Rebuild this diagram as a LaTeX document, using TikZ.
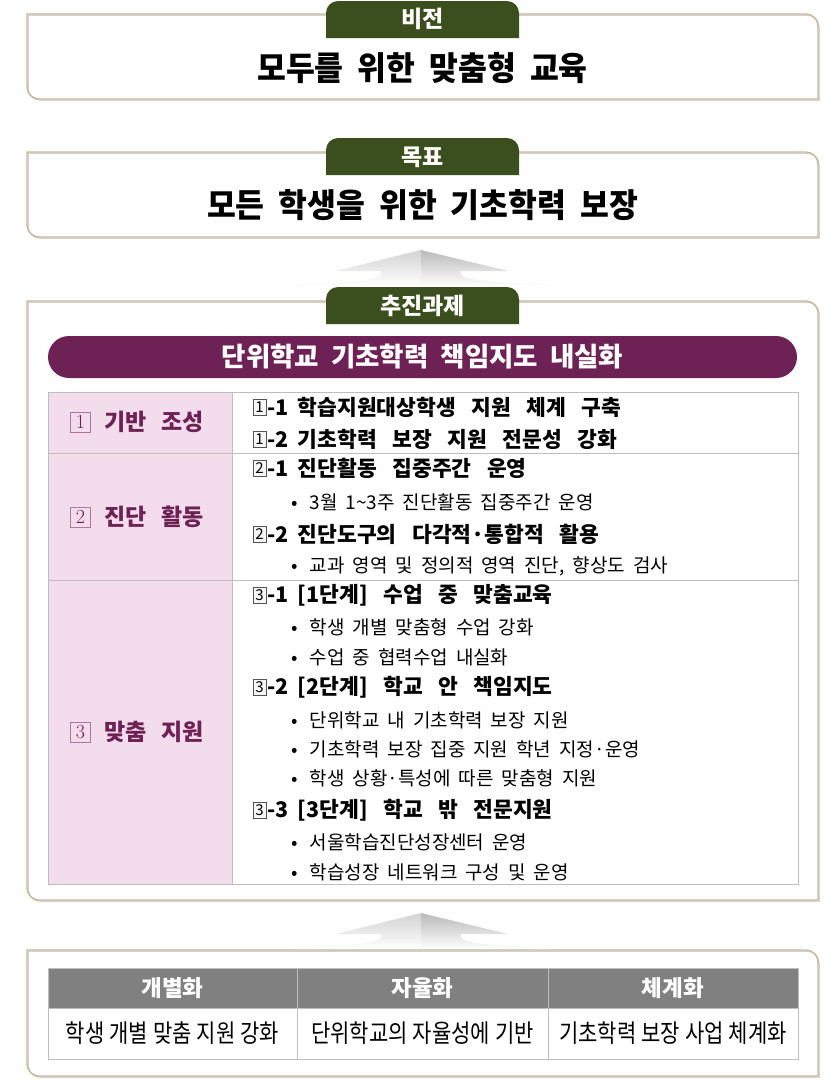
\documentclass[tikz,border=0pt]{standalone}
\usepackage{fontspec}
\usetikzlibrary{calc}
\newfontfamily\kr{Noto Sans CJK KR}
\newfontfamily\krt[FakeStretch=0.95]{Noto Sans CJK KR}
\newfontfamily\krn[FakeStretch=0.84]{Noto Sans CJK KR}
\newcommand{\sps}[1]{\spaceskip=#1\relax}
\definecolor{tabgreen}{RGB}{59,78,30}
\definecolor{banpurple}{RGB}{110,33,85}
\definecolor{cellpink}{RGB}{243,221,236}
\definecolor{boxtan}{RGB}{201,181,152}
\definecolor{gridgray}{RGB}{190,190,190}
\definecolor{hdrgray}{RGB}{128,128,128}
\definecolor{lboxpurple}{RGB}{170,120,160}
\newcommand{\kbox}[4]{%
  \draw[black!18, line width=1.2pt, shift={(1.2,1.2)}] (#1,#2) -- ({#3-12},#2) .. controls ({#3-5.4},#2) and (#3,{#2+5.4}) .. (#3,{#2+12}) -- (#3,#4) -- ({#1+12},#4) .. controls ({#1+5.4},#4) and (#1,{#4-5.4}) .. (#1,{#4-12}) -- cycle;
  \draw[boxline] (#1,#2) -- ({#3-12},#2) .. controls ({#3-5.4},#2) and (#3,{#2+5.4}) .. (#3,{#2+12}) -- (#3,#4) -- ({#1+12},#4) .. controls ({#1+5.4},#4) and (#1,{#4-5.4}) .. (#1,{#4-12}) -- cycle;}
\newcommand{\ktab}[4]{%
  \fill[tabgreen] (#1,#4) -- (#1,{#2+12}) .. controls (#1,{#2+5.4}) and ({#1+5.4},#2) .. ({#1+12},#2) -- ({#3-12},#2) .. controls ({#3-5.4},#2) and (#3,{#2+5.4}) .. (#3,{#2+12}) -- (#3,#4) -- cycle;}
\newcommand{\karrow}[1]{%
  \shade[top color=gray!35, bottom color=white] (421,#1) -- (336,{#1+21}) -- (381,{#1+21}) .. controls (386,{#1+29}) and (360,{#1+33}) .. (300,{#1+34}) -- (282,{#1+36}) -- (421,{#1+36}) -- cycle;
  \shade[top color=gray!55, bottom color=white] (421,#1) -- (508,{#1+21}) -- (461,{#1+21}) .. controls (456,{#1+29}) and (482,{#1+33}) .. (542,{#1+34}) -- (562,{#1+36}) -- (421,{#1+36}) -- cycle;}
\tikzset{
  boxline/.style={draw=boxtan, line width=1.3pt},
  tabtxt/.style={text=white, inner sep=0pt, font=\kr\bfseries\fontsize{23}{23}\selectfont},
  titletxt/.style={inner sep=0pt, font=\krt\bfseries\fontsize{33}{33}\selectfont\sps{14pt}},
  banner/.style={fill=banpurple, rounded corners=21pt, minimum width=749pt, minimum height=42pt, inner sep=0pt, text=white, font=\kr\bfseries\fontsize{26.5}{26.5}\selectfont\sps{12pt}},
  grid/.style={draw=gridgray, line width=0.8pt},
  numbox/.style={draw=gray!65!black, fill=gray!7, line width=0.7pt, inner sep=0pt, minimum width=13pt, minimum height=16pt, font=\kr\fontsize{15}{15}\selectfont},
  hdr/.style={anchor=west, inner sep=0pt, xshift=1pt, font=\kr\bfseries\fontsize{21.5}{21.5}\selectfont\sps{15.5pt}},
  bul/.style={anchor=west, inner sep=0pt, font=\kr\fontsize{19}{19}\selectfont\sps{8pt}},
  lbox/.style={draw=lboxpurple, line width=0.8pt, inner sep=0pt, minimum width=20pt, minimum height=20pt, text=banpurple, font=\fontsize{20}{20}\selectfont},
  ltxt/.style={anchor=west, inner sep=0pt, text=banpurple, font=\kr\bfseries\fontsize{23}{23}\selectfont\sps{15pt}},
  hcell/.style={fill=hdrgray, draw=gridgray, line width=0.8pt, minimum height=40pt, text=white, inner sep=0pt, font=\kr\bfseries\fontsize{22.5}{22.5}\selectfont},
  bcell/.style={draw=gridgray, line width=0.8pt, minimum height=51pt, inner sep=0pt, font=\krn\fontsize{25}{25}\selectfont\sps{5pt}}
}
\begin{document}
\begin{tikzpicture}[x=1pt,y=-1pt]
\useasboundingbox (0,0) rectangle (839,1088);
\fill[white] (0,0) rectangle (839,1088);
% Vision
\kbox{27}{14}{818}{99}
\ktab{326}{1}{519}{38}
\node[tabtxt] (vtab) at (422.5,19) {비전};
\node[titletxt] (vision) at (422.5,68) {모두를 위한 맞춤형 교육};
% Goal
\kbox{27}{152}{818}{237}
\ktab{326}{138}{519}{175}
\node[tabtxt] (gtab) at (422.5,157) {목표};
\node[titletxt] (goal) at (422.5,205) {모든 학생을 위한 기초학력 보장};
% arrow 1
\karrow{250}
% Tasks box
\kbox{27}{301}{818}{900}
\ktab{326}{287}{519}{324}
\node[tabtxt] (ttab) at (422.5,306) {추진과제};
\node[banner] (ban) at (422.5,357) {단위학교 기초학력 책임지도 내실화};
% table
\fill[cellpink] (48,392) rectangle (232,884);
\draw[grid] (48,392) rectangle (798,884);
\draw[grid] (232,392) -- (232,884);
\draw[grid] (48,453) -- (798,453);
\draw[grid] (48,580) -- (798,580);
% left labels
\node[lbox] (l1b) at (80.5,422) {1};
\node[ltxt] (l1) at ($(l1b.east)+(13,0)$) {기반 조성};
\node[lbox] (l2b) at (80.5,517) {2};
\node[ltxt] (l2) at ($(l2b.east)+(13,0)$) {진단 활동};
\node[lbox] (l3b) at (80.5,732) {3};
\node[ltxt] (l3) at ($(l3b.east)+(13,0)$) {맞춤 지원};
% right column
\node[numbox] (h11b) at (259.5,407) {1};
\node[hdr] (h11) at (h11b.east) {-1\hspace{9pt}학습지원대상학생 지원 체계 구축};
\node[numbox] (h12b) at (259.5,439) {1};
\node[hdr] (h12) at (h12b.east) {-2\hspace{9pt}기초학력 보장 지원 전문성 강화};
\node[numbox] (h21b) at (259.5,468) {2};
\node[hdr] (h21) at (h21b.east) {-1\hspace{9pt}진단활동 집중주간 운영};
\node[bul] (b211) at (291,502) {•\hspace{12pt}3월 1\textasciitilde3주 진단활동 집중주간 운영};
\node[numbox] (h22b) at (259.5,534) {2};
\node[hdr] (h22) at (h22b.east) {-2\hspace{9pt}진단도구의 다각적·통합적 활용};
\node[bul] (b221) at (291,566) {•\hspace{12pt}교과 영역 및 정의적 영역 진단, 향상도 검사};
\node[numbox] (h31b) at (259.5,595) {3};
\node[hdr] (h31) at (h31b.east) {-1\hspace{9pt}[1단계] 수업 중 맞춤교육};
\node[bul] (b311) at (291,627) {•\hspace{12pt}학생 개별 맞춤형 수업 강화};
\node[bul] (b312) at (291,657) {•\hspace{12pt}수업 중 협력수업 내실화};
\node[numbox] (h32b) at (259.5,687) {3};
\node[hdr] (h32) at (h32b.east) {-2\hspace{9pt}[2단계] 학교 안 책임지도};
\node[bul] (b321) at (291,720) {•\hspace{12pt}단위학교 내 기초학력 보장 지원};
\node[bul] (b322) at (291,749) {•\hspace{12pt}기초학력 보장 집중 지원 학년 지정·운영};
\node[bul] (b323) at (291,778) {•\hspace{12pt}학생 상황·특성에 따른 맞춤형 지원};
\node[numbox] (h33b) at (259.5,810) {3};
\node[hdr] (h33) at (h33b.east) {-3\hspace{9pt}[3단계] 학교 밖 전문지원};
\node[bul] (b331) at (291,842) {•\hspace{12pt}서울학습진단성장센터 운영};
\node[bul] (b332) at (291,872) {•\hspace{12pt}학습성장 네트워크 구성 및 운영};
% arrow 2
\karrow{913}
% principles box
\kbox{27}{950}{818}{1076}
\node[hcell, minimum width=249pt] (c1h) at (172.5,988) {개별화};
\node[hcell, minimum width=251pt] (c2h) at (422.5,988) {자율화};
\node[hcell, minimum width=250pt] (c3h) at (673,988) {체계화};
\node[bcell, minimum width=249pt] (c1b) at (172.5,1033.5) {학생 개별 맞춤 지원 강화};
\node[bcell, minimum width=251pt] (c2b) at (422.5,1033.5) {단위학교의 자율성에 기반};
\node[bcell, minimum width=250pt] (c3b) at (673,1033.5) {기초학력 보장 사업 체계화};
\end{tikzpicture}
\end{document}
